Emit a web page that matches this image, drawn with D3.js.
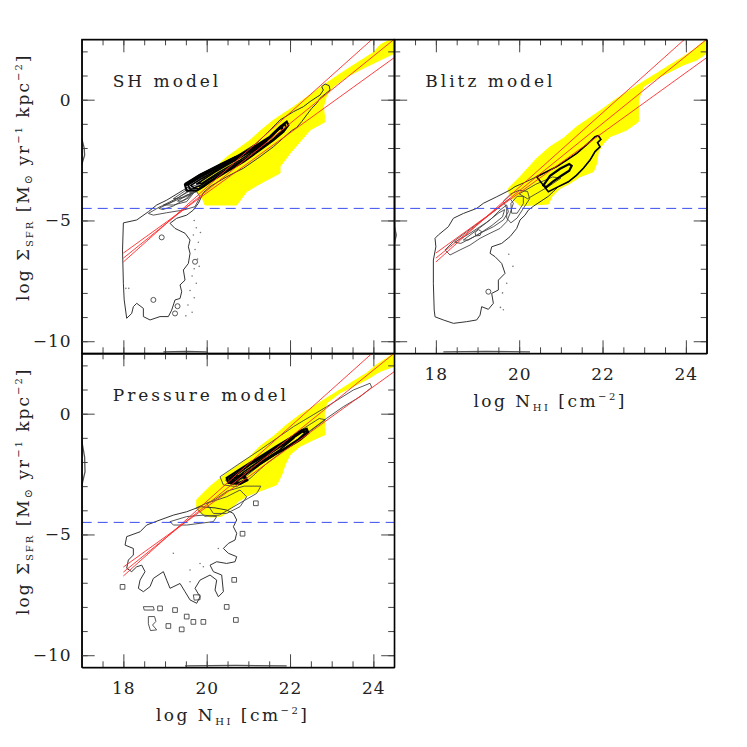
<!DOCTYPE html>
<html><head><meta charset="utf-8">
<script src="https://cdn.jsdelivr.net/npm/d3@7"></script>
<style>
body{margin:0;background:#fff;}
svg{display:block;font-family:"DejaVu Serif",serif;}
</style></head><body>
<svg id="chart" width="747" height="747"></svg>
<script>
// ---------------- data ----------------
const xDomain = [17, 24.5];
const yDomain = [-10.5, 2.5];
const xMajorTicks = [18, 20, 22, 24];
const xMinorTicks = [17.5,18,18.5,19,19.5,20,20.5,21,21.5,22,22.5,23,23.5,24];
const yMajorTicks = [0, -5, -10];
const yMinorTicks = [2,1,0,-1,-2,-3,-4,-5,-6,-7,-8,-9,-10];
const modelNames = ["SH model", "Blitz model", "Pressure model"];
const sfrThreshold = -4.5;
// three star-formation-law lines (same in every panel): [logN, logSFR] end points
const fitLines = [
  [[18, -6.72], [24.5, 3.32]],
  [[18, -6.56], [24.5, 2.50]],
  [[18, -6.35], [24.5, 1.74]]
];

// ---- SH model ----
const yellowSH = [[19.76,-3.81],[19.9,-3.3],[20.16,-2.88],[20.48,-2.38],[20.72,-2.08],[21.04,-1.68],[21.28,-1.3],[21.6,-0.85],[22.08,-0.3],[22.48,0.2],[22.8,0.6],[23.04,0.88],[23.36,1.25],[23.68,1.6],[24.0,1.95],[24.16,2.26],[24.32,2.42],[24.5,2.5],[24.5,1.92],[24.08,1.57],[23.68,1.23],[23.36,0.95],[23.04,0.54],[22.88,0.19],[22.8,-0.29],[22.84,-0.91],[22.48,-1.26],[22.0,-2.22],[21.76,-2.77],[21.76,-3.04],[21.36,-3.4],[20.96,-3.8],[20.84,-4.08],[20.72,-4.36],[19.96,-4.36],[19.88,-4.02]];
const outerSH = [[18.0,-5.1],[18.32,-4.98],[18.6,-4.64],[18.8,-4.36],[19.04,-4.16],[19.44,-3.74],[19.66,-3.5],[19.95,-3.15],[20.35,-2.7],[20.8,-2.24],[21.2,-1.8],[21.52,-1.26],[21.76,-0.84],[22.08,-0.5],[22.32,-0.29],[22.48,-0.08],[22.6,0.06],[22.72,0.19],[22.8,0.4],[22.76,0.54],[22.84,0.65],[22.94,0.58],[22.96,0.4],[22.86,0.26],[22.72,0.06],[22.64,-0.15],[22.52,-0.36],[22.4,-0.63],[22.28,-0.91],[22.16,-1.15],[22.04,-1.28],[21.92,-1.46],[21.6,-1.95],[21.28,-2.36],[20.88,-2.84],[20.48,-3.19],[20.08,-3.6],[19.92,-3.85],[19.8,-4.29],[19.68,-4.57],[19.52,-4.78],[19.28,-4.91],[19.12,-5.12],[19.24,-5.33],[19.48,-5.53],[19.6,-5.81],[19.56,-6.09],[19.6,-6.36],[19.56,-6.78],[19.44,-7.05],[19.48,-7.47],[19.36,-7.67],[19.4,-7.95],[19.36,-8.23],[19.24,-8.29],[19.16,-8.71],[19.08,-8.98],[18.88,-8.98],[18.64,-9.12],[18.48,-8.98],[18.48,-8.64],[18.32,-8.43],[18.24,-8.57],[18.2,-8.85],[18.08,-9.05],[18.02,-8.29],[18.0,-7.6],[17.98,-6.22]];
const loopsSH = [
  [[18.6,-4.71],[18.88,-4.43],[19.2,-4.22],[19.52,-3.95],[19.76,-3.81],[19.84,-4.02],[19.72,-4.43],[19.44,-4.57],[19.04,-4.68],[18.72,-4.78]],
  [[18.96,-4.36],[19.28,-4.09],[19.56,-3.81],[19.68,-3.88],[19.52,-4.22],[19.2,-4.36]],
  [[19.3,-4.2],[19.5,-3.98],[19.65,-3.85],[19.58,-4.05],[19.42,-4.2]],
  [[19.2,-4.1],[19.5,-3.75],[19.7,-3.55],[19.85,-3.6],[19.7,-3.85],[19.45,-4.05]],
  [[18.85,-4.5],[19.15,-4.25],[19.45,-3.9],[19.62,-3.72],[19.7,-3.8],[19.5,-4.1],[19.2,-4.4],[18.95,-4.55]]
];
const coreSH = [
  [[19.48,-3.53],[19.84,-3.12],[20.32,-2.71],[20.8,-2.29],[21.2,-1.88],[21.52,-1.53],[21.76,-1.12],[21.92,-0.91],[21.96,-1.05],[21.84,-1.33],[21.6,-1.67],[21.28,-2.08],[20.88,-2.57],[20.48,-2.98],[20.08,-3.4],[19.92,-3.6],[19.76,-3.77],[19.52,-3.77]],
  [[19.55,-3.54],[19.88,-3.18],[20.34,-2.76],[20.8,-2.34],[21.2,-1.93],[21.51,-1.58],[21.74,-1.19],[21.88,-1.02],[21.9,-1.17],[21.7,-1.5],[21.42,-1.88],[21.06,-2.32],[20.66,-2.77],[20.26,-3.18],[19.98,-3.47],[19.82,-3.68],[19.6,-3.7]],
  [[19.62,-3.55],[19.9,-3.25],[20.35,-2.8],[20.8,-2.38],[21.2,-1.97],[21.5,-1.62],[21.72,-1.25],[21.82,-1.15],[21.8,-1.3],[21.55,-1.7],[21.25,-2.08],[20.85,-2.52],[20.45,-2.92],[20.05,-3.32],[19.85,-3.55],[19.7,-3.65]],
  [[19.75,-3.5],[20.2,-3.0],[20.7,-2.5],[21.2,-2.0],[21.45,-1.72],[21.3,-1.95],[20.8,-2.5],[20.3,-3.0],[19.9,-3.45]]
];
const ridgeSH = [[19.5,-3.5],[19.84,-3.14],[20.32,-2.72],[20.7,-2.4]];
const islandsSH = [[18.92,-5.7],[19.72,-6.71],[19.24,-8.85],[19.3,-8.55],[18.72,-8.29]];
const dotsSH = [[18.06,-7.81],[18.13,-7.81],[19.7,-5.0],[19.75,-5.3],[19.68,-5.6],[19.8,-5.9],[19.72,-6.2],[19.78,-6.6],[19.7,-7.0],[19.65,-7.3],[19.75,-7.6],[19.6,-7.9],[19.7,-8.2],[19.55,-8.5],[19.65,-8.8],[19.5,-8.95],[19.82,-6.9],[19.85,-5.5]];
const edgesSH = [[[18.96,-10.44],[19.5,-10.42],[20.0,-10.44]], [[17.0,-1.6],[17.06,-2.0],[17.07,-2.3],[17.0,-2.7]]];

// ---- Blitz model ----
const yellowBlitz = [[19.74,-3.67],[20.02,-3.19],[20.42,-2.43],[20.74,-1.95],[21.06,-1.6],[21.38,-1.12],[21.62,-0.84],[22.02,-0.36],[22.34,0.05],[22.66,0.4],[22.98,0.75],[23.3,1.09],[23.62,1.44],[23.94,1.78],[24.18,2.06],[24.42,2.4],[24.5,2.5],[24.5,1.92],[24.26,1.64],[23.94,1.44],[23.62,1.16],[23.3,0.88],[22.98,0.54],[22.86,-0.01],[22.86,-0.91],[22.58,-1.26],[22.18,-1.53],[22.02,-1.81],[21.9,-2.15],[21.86,-2.64],[21.78,-2.98],[21.46,-3.19],[21.22,-3.46],[20.98,-3.67],[20.78,-4.02],[20.7,-4.32],[20.02,-4.39],[19.86,-4.15],[19.76,-3.88]];
const outerBlitz = [[19.78,-3.74],[19.46,-4.02],[19.14,-4.29],[18.98,-4.5],[18.66,-4.71],[18.42,-4.91],[18.3,-5.26],[18.06,-5.6],[17.98,-5.74],[18.0,-6.09],[17.94,-6.64],[17.94,-7.6],[17.96,-8.71],[17.98,-8.99],[18.18,-9.12],[18.42,-9.26],[18.74,-9.19],[18.98,-9.12],[19.06,-8.92],[19.1,-8.57],[19.26,-8.68],[19.38,-8.43],[19.34,-8.02],[19.5,-7.88],[19.5,-7.47],[19.66,-7.19],[19.58,-6.78],[19.42,-6.5],[19.3,-6.36],[19.34,-6.09],[19.58,-5.95],[19.78,-5.67],[19.94,-5.33],[20.02,-4.98],[20.14,-4.78],[20.22,-4.57],[20.35,-4.4],[20.7,-4.0],[20.94,-3.6],[21.18,-3.4],[21.38,-3.12],[21.54,-2.84],[21.7,-2.5],[21.82,-2.15],[21.94,-1.95],[21.88,-1.78],[21.96,-1.64],[21.9,-1.49],[21.82,-1.53],[21.7,-1.74],[21.58,-1.92],[21.38,-2.22],[21.14,-2.5],[20.9,-2.77],[20.42,-3.19],[20.1,-3.45],[19.9,-3.6]];
const loopsBlitz = [
  [[18.22,-6.22],[18.42,-5.88],[18.74,-5.47],[19.06,-5.05],[19.38,-4.64],[19.62,-4.29],[19.78,-4.09],[19.86,-4.29],[19.78,-4.71],[19.7,-5.05],[19.54,-5.33],[19.3,-5.53],[19.06,-5.74],[18.82,-6.02],[18.58,-6.22],[18.34,-6.43]],
  [[18.66,-5.81],[18.98,-5.4],[19.3,-4.98],[19.54,-4.57],[19.7,-4.36],[19.74,-4.64],[19.62,-4.98],[19.38,-5.26],[19.06,-5.53],[18.78,-5.81]],
  [[18.94,-5.5],[19.02,-5.38],[19.1,-5.46],[19.06,-5.62],[18.96,-5.64]],
  [[19.62,-4.2],[19.8,-3.9],[20.0,-3.75],[20.2,-3.8],[20.25,-4.1],[20.1,-4.5],[19.95,-4.9],[19.8,-5.1],[19.7,-4.9],[19.7,-4.5]],
  [[19.8,-4.3],[19.95,-4.0],[20.1,-4.0],[20.1,-4.3],[19.95,-4.7],[19.82,-4.7]],
  [[20.0,-3.9],[20.4,-3.5],[20.8,-3.2],[21.0,-3.25],[20.7,-3.6],[20.4,-3.9],[20.2,-4.1]],
  [[18.45,-5.9],[18.8,-5.55],[19.2,-5.1],[19.5,-4.7],[19.65,-4.55],[19.6,-4.85],[19.35,-5.2],[19.0,-5.6],[18.6,-5.95]]
];
const coreBlitz = [
  [[20.58,-3.55],[20.74,-3.15],[20.98,-2.86],[21.2,-2.66],[21.26,-2.74],[21.2,-2.94],[21.02,-3.14],[20.8,-3.4],[20.65,-3.62]],
  [[20.42,-3.19],[20.9,-2.77],[21.14,-2.5],[21.38,-2.22],[21.58,-1.92],[21.7,-1.74],[21.82,-1.53],[21.9,-1.49],[21.96,-1.64],[21.88,-1.78],[21.94,-1.95],[21.82,-2.15],[21.7,-2.5],[21.54,-2.84],[21.38,-3.12],[21.18,-3.4],[20.94,-3.6],[20.7,-3.81]]
];
const ridgeBlitz = [];
const islandsBlitz = [[19.26,-7.95]];
const dotsBlitz = [[19.75,-6.4],[19.85,-6.9],[19.7,-7.6],[19.6,-8.0],[19.55,-8.6],[19.62,-8.7]];
const edgesBlitz = [[[18.18,-10.44],[19.2,-10.42],[20.26,-10.44]], [[17.0,-5.2],[17.05,-5.6],[17.0,-6.0]]];

// ---- Pressure model ----
const yellowPressure = [[19.76,-3.56],[20.08,-3.01],[20.48,-2.46],[20.72,-2.18],[21.04,-1.77],[21.28,-1.35],[21.6,-0.94],[21.92,-0.46],[22.24,-0.04],[22.56,0.3],[22.88,0.65],[23.2,0.99],[23.52,1.34],[23.84,1.68],[24.08,2.03],[24.32,2.3],[24.5,2.5],[24.5,1.96],[24.16,1.75],[23.84,1.41],[23.52,1.13],[23.2,0.86],[22.88,0.44],[22.82,0.03],[22.84,-0.87],[22.56,-1.08],[22.24,-1.35],[22.0,-1.7],[21.88,-2.11],[21.8,-2.53],[21.68,-2.94],[21.36,-3.15],[21.04,-3.35],[20.76,-3.63],[20.56,-3.97],[20.36,-4.25],[20.08,-4.28],[19.84,-4.11],[19.76,-3.84]];
const outerPressure = [[19.84,-3.85],[19.52,-4.06],[19.2,-4.2],[18.88,-4.4],[18.56,-4.61],[18.4,-4.89],[18.08,-5.09],[18.04,-5.44],[18.24,-5.58],[18.24,-5.85],[18.12,-6.06],[18.08,-6.4],[18.2,-6.54],[18.32,-6.34],[18.44,-6.27],[18.52,-6.54],[18.4,-6.89],[18.36,-7.23],[18.48,-7.37],[18.64,-7.16],[18.72,-6.82],[18.96,-6.54],[19.04,-6.89],[19.12,-7.23],[19.36,-7.03],[19.48,-7.37],[19.6,-7.71],[19.76,-7.85],[19.84,-7.58],[19.72,-7.23],[19.84,-6.89],[20.08,-6.68],[20.24,-6.89],[20.2,-7.3],[20.28,-7.58],[20.4,-7.37],[20.36,-6.68],[20.16,-6.54],[20.08,-6.27],[20.24,-6.13],[20.48,-6.2],[20.68,-6.13],[20.72,-5.92],[20.52,-5.78],[20.4,-5.58],[20.52,-5.37],[20.68,-5.23],[20.72,-4.95],[20.64,-4.68],[20.72,-4.4],[20.64,-4.13],[20.48,-3.99],[20.2,-3.9]];
const loopsPressure = [
  [[20.32,-2.61],[20.8,-2.05],[21.28,-1.5],[22.08,-0.54],[22.88,0.29],[23.52,0.98],[23.92,1.26],[23.96,1.09],[23.68,0.7],[23.28,0.29],[22.88,-0.19],[22.4,-0.81],[21.92,-1.44],[21.44,-2.06],[21.04,-2.68],[20.72,-3.02],[20.4,-2.95]],
  [[20.45,-2.75],[21.0,-2.15],[21.6,-1.45],[22.2,-0.75],[22.7,-0.2],[22.85,-0.25],[22.5,-0.7],[21.9,-1.4],[21.3,-2.1],[20.9,-2.65],[20.6,-2.95]],
  [[19.12,-4.47],[19.52,-4.26],[19.92,-4.2],[20.24,-4.26],[20.16,-4.47],[19.84,-4.54],[19.52,-4.61],[19.2,-4.61]],
  [[20.0,-3.71],[20.48,-3.44],[20.8,-3.16],[20.96,-3.44],[20.8,-3.85],[20.48,-4.13],[20.16,-4.13]],
  [[19.75,-3.9],[20.2,-3.55],[20.5,-3.2],[20.9,-3.0],[21.3,-3.0],[21.2,-3.3],[20.9,-3.6],[20.6,-3.9],[20.3,-4.2],[19.95,-4.25]],
  [[18.48,-7.99],[18.72,-7.99],[18.74,-8.13],[18.5,-8.13]],
  [[18.6,-8.4],[18.75,-8.4],[18.78,-8.6],[18.7,-8.75],[18.8,-8.95],[18.65,-8.98],[18.6,-8.7]],
  [[19.68,-7.5],[19.84,-7.5],[19.84,-7.7],[19.7,-7.72]]
];
const corePressure = [
  [[20.48,-2.66],[20.72,-2.39],[21.04,-2.04],[21.36,-1.7],[21.68,-1.35],[22.0,-1.01],[22.28,-0.69],[22.4,-0.63],[22.44,-0.8],[22.24,-1.08],[21.92,-1.42],[21.6,-1.7],[21.28,-2.04],[21.0,-2.39],[20.8,-2.66],[20.64,-2.87],[20.52,-2.87]],
  [[20.54,-2.68],[20.76,-2.43],[21.06,-2.07],[21.38,-1.73],[21.7,-1.38],[22.02,-1.04],[22.3,-0.72],[22.4,-0.72],[22.38,-0.84],[22.2,-1.08],[21.9,-1.42],[21.6,-1.74],[21.28,-2.1],[21.0,-2.44],[20.78,-2.72],[20.6,-2.84]],
  [[20.58,-2.7],[20.78,-2.45],[21.06,-2.1],[21.38,-1.76],[21.7,-1.42],[22.02,-1.07],[22.3,-0.75],[22.36,-0.8],[22.2,-1.05],[21.9,-1.4],[21.6,-1.72],[21.28,-2.08],[21.0,-2.42],[20.78,-2.7],[20.6,-2.8]],
  [[20.66,-2.72],[20.9,-2.4],[21.3,-1.92],[21.7,-1.45],[22.1,-1.0],[21.75,-1.5],[21.3,-2.02],[20.9,-2.5]]
];
const ridgePressure = [[20.56,-2.75],[20.7,-2.62],[20.9,-2.6],[20.95,-2.75],[20.8,-2.88],[20.6,-2.86],[20.56,-2.75]];
const squaresPressure = [[17.98,-7.17],[18.88,-8.06],[19.24,-8.13],[19.52,-8.4],[19.68,-8.62],[19.92,-8.62],[20.48,-8.0],[20.66,-6.88],[20.7,-8.54],[19.08,-8.79],[19.4,-8.93],[20.86,-4.97],[21.18,-3.71]];
const dotsPressure = [[20.28,-5.58],[19.2,-5.78],[19.6,-6.47],[19.84,-6.2],[19.92,-6.34],[19.6,-6.96]];
const edgesPressure = [[[19.48,-10.44],[20.7,-10.42],[21.92,-10.44]], [[17.0,-1.1],[17.07,-1.8],[17.08,-2.4],[17.0,-3.0]]];

// ---------------- layout ----------------
const PW = 312.5, PH = 314;
const panels = [
  {name: modelNames[0], left: 81.7, top: 39.3, yellow: yellowSH, outer: outerSH, loops: loopsSH, core: coreSH, ridge: ridgeSH, islands: islandsSH, dots: dotsSH, squares: [], edges: edgesSH, xLabels: false, yLabels: true},
  {name: modelNames[1], left: 394.2, top: 39.3, yellow: yellowBlitz, outer: outerBlitz, loops: loopsBlitz, core: coreBlitz, ridge: ridgeBlitz, islands: islandsBlitz, dots: dotsBlitz, squares: [], edges: edgesBlitz, xLabels: true, yLabels: false},
  {name: modelNames[2], left: 81.7, top: 353.3, yellow: yellowPressure, outer: outerPressure, loops: loopsPressure, core: corePressure, ridge: ridgePressure, islands: [], dots: dotsPressure, squares: squaresPressure, edges: edgesPressure, xLabels: true, yLabels: true}
];

const svg = d3.select("#chart");
const x = d3.scaleLinear().domain(xDomain).range([0, PW]);
const y = d3.scaleLinear().domain(yDomain).range([PH, 0]);
const closed = d3.line().x(d => x(d[0])).y(d => y(d[1])).curve(d3.curveLinearClosed);
const open = d3.line().x(d => x(d[0])).y(d => y(d[1]));

panels.forEach((p, i) => {
  const g = svg.append("g").attr("transform", `translate(${p.left},${p.top})`);
  const cid = "clip" + i;
  svg.append("defs").append("clipPath").attr("id", cid).append("rect").attr("width", PW).attr("height", PH);
  const pg = g.append("g").attr("clip-path", `url(#${cid})`);

  pg.append("path").attr("d", closed(p.yellow)).attr("fill", "#ffff00").attr("stroke", "#ffff00").attr("stroke-width", 1);

  pg.selectAll(".dot").data(p.dots).join("circle").attr("cx", d => x(d[0])).attr("cy", d => y(d[1])).attr("r", 0.8).attr("fill", "#777");

  pg.append("path").attr("d", closed(p.outer)).attr("fill", "none").attr("stroke", "#333").attr("stroke-width", 1);
  p.loops.forEach(l => pg.append("path").attr("d", closed(l)).attr("fill", "none").attr("stroke", "#444").attr("stroke-width", 0.9));
  p.core.forEach((l, k) => pg.append("path").attr("d", closed(l)).attr("fill", "none").attr("stroke", "#000").attr("stroke-width", k === 0 ? 2.2 : 1.6));
  if (p.ridge.length) pg.append("path").attr("d", open(p.ridge)).attr("fill", "none").attr("stroke", "#000").attr("stroke-width", 3.5).attr("stroke-linecap", "round");
  pg.selectAll(".isl").data(p.islands).join("circle").attr("cx", d => x(d[0])).attr("cy", d => y(d[1])).attr("r", 2.5).attr("fill", "none").attr("stroke", "#444").attr("stroke-width", 0.9);
  pg.selectAll(".sq").data(p.squares).join("path").attr("transform", d => `translate(${x(d[0])},${y(d[1])})`).attr("d", d3.symbol(d3.symbolSquare, 22)()).attr("fill", "none").attr("stroke", "#444").attr("stroke-width", 0.9);
  p.edges.forEach(l => pg.append("path").attr("d", open(l)).attr("fill", "none").attr("stroke", "#555").attr("stroke-width", 1.3));

  fitLines.forEach(l => pg.append("path").attr("d", open(l)).attr("fill", "none").attr("stroke", "#ff2a2a").attr("stroke-width", 0.9));

  pg.append("line").attr("x1", x(xDomain[0])).attr("x2", x(xDomain[1])).attr("y1", y(sfrThreshold)).attr("y2", y(sfrThreshold))
    .attr("stroke", "#3c4cf0").attr("stroke-width", 1).attr("stroke-dasharray", "10,6");

  // axes
  const styleAxis = sel => { sel.select(".domain").attr("stroke", "#000"); sel.selectAll(".tick line").attr("stroke", "#444"); };
  g.append("g").attr("transform", `translate(0,${PH})`).call(d3.axisBottom(x).tickValues(xMinorTicks).tickSize(-6).tickSizeOuter(0).tickFormat("")).call(styleAxis);
  g.append("g").call(d3.axisTop(x).tickValues(xMinorTicks).tickSize(-6).tickSizeOuter(0).tickFormat("")).call(styleAxis);
  g.append("g").call(d3.axisLeft(y).tickValues(yMinorTicks).tickSize(-6).tickSizeOuter(0).tickFormat("")).call(styleAxis);
  g.append("g").attr("transform", `translate(${PW},0)`).call(d3.axisRight(y).tickValues(yMinorTicks).tickSize(-6).tickSizeOuter(0).tickFormat("")).call(styleAxis);

  const xb = g.append("g").attr("transform", `translate(0,${PH})`).call(d3.axisBottom(x).tickValues(xMajorTicks).tickSize(-13).tickSizeOuter(0).tickPadding(15).tickFormat(p.xLabels ? d3.format("d") : "")).call(styleAxis);
  g.append("g").call(d3.axisTop(x).tickValues(xMajorTicks).tickSize(-13).tickSizeOuter(0).tickFormat("")).call(styleAxis);
  const yl = g.append("g").call(d3.axisLeft(y).tickValues(yMajorTicks).tickSize(-13).tickSizeOuter(0).tickPadding(10).tickFormat(p.yLabels ? (d => d < 0 ? "\u2212" + Math.abs(d) : String(d)) : "")).call(styleAxis);
  g.append("g").attr("transform", `translate(${PW},0)`).call(d3.axisRight(y).tickValues(yMajorTicks).tickSize(-13).tickSizeOuter(0).tickFormat("")).call(styleAxis);
  [xb, yl].forEach(a => a.selectAll("text").attr("font-family", "DejaVu Serif, serif").attr("font-size", 17).attr("fill", "#222").style("letter-spacing", "1px"));

  g.append("rect").attr("width", PW).attr("height", PH).attr("fill", "none").attr("stroke", "#000").attr("stroke-width", 1);

  g.append("text").attr("x", 31).attr("y", 48).attr("font-size", 17).attr("fill", "#222").style("letter-spacing", "3px").text(p.name);

  if (p.xLabels) {
    const cx = i === 1 ? 156 : 151;
    const t = g.append("text").attr("x", cx).attr("y", PH + 54).attr("text-anchor", "middle").attr("font-size", 17).attr("fill", "#222").style("letter-spacing", "2.5px");
    t.append("tspan").text("log N");
    t.append("tspan").attr("font-size", 10).attr("dy", 4).text("HI");
    t.append("tspan").attr("dy", -4).text(" [cm");
    t.append("tspan").attr("font-size", 10).attr("dy", -7).text("\u22122");
    t.append("tspan").attr("dy", 7).text("]");
  }
  if (p.yLabels) {
    const t = svg.append("text").attr("transform", `translate(29,${p.top + 138}) rotate(-90)`).attr("text-anchor", "middle").attr("font-size", 17).attr("fill", "#222").style("letter-spacing", "2px");
    t.append("tspan").text("log \u03A3");
    t.append("tspan").attr("font-size", 10).attr("dy", 4).text("SFR");
    t.append("tspan").attr("dy", -4).text(" [M");
    t.append("tspan").attr("font-size", 11).attr("dy", 3).text("\u2299");
    t.append("tspan").attr("dy", -3).text(" yr");
    t.append("tspan").attr("font-size", 10).attr("dy", -7).text("\u22121");
    t.append("tspan").attr("dy", 7).text(" kpc");
    t.append("tspan").attr("font-size", 10).attr("dy", -7).text("\u22122");
    t.append("tspan").attr("dy", 7).text("]");
  }
});
</script>
</body></html>
